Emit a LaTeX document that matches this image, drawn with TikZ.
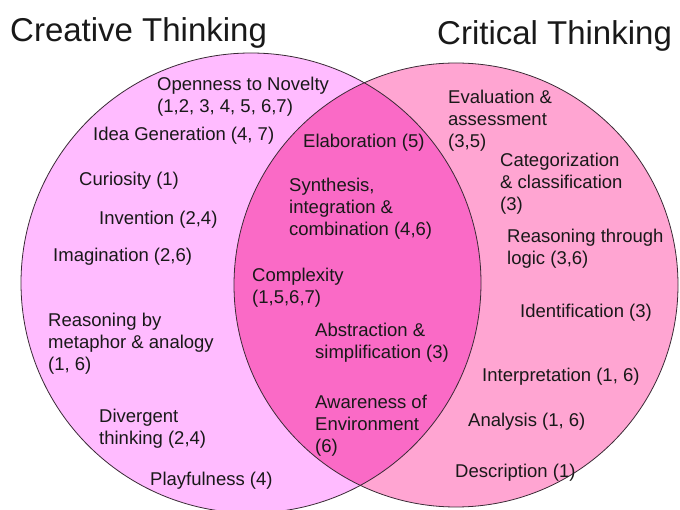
\documentclass[tikz,border=0pt]{standalone}
\usepackage{fontspec}
\setmainfont{Liberation Sans}
\definecolor{creafill}{HTML}{FFBBFF}
\definecolor{critfill}{HTML}{FFA5D2}
\definecolor{lensfill}{HTML}{FA6AC6}
\definecolor{rimline}{HTML}{3A2A35}
\tikzset{
  lbl/.style={anchor=base west, inner sep=0pt, align=left,
    font=\fontsize{18.5}{22}\selectfont, text=black!90},
  ttl/.style={anchor=base west, inner sep=0pt,
    font=\fontsize{33}{38}\selectfont, text=black!90},
  rim/.style={draw=rimline, line width=0.8pt}
}
\begin{document}
\begin{tikzpicture}[x=1pt,y=-1pt]
\useasboundingbox (0,0) rectangle (680,510);
\fill[white] (0,0) rectangle (680,510);
% circles
\fill[creafill] (251,283) circle[radius=230];
\fill[critfill] (456,285) circle[radius=222];
\begin{scope}
  \clip (251,283) circle[radius=230];
  \fill[lensfill] (456,285) circle[radius=222];
\end{scope}
\draw[rim] (251,283) circle[radius=230];
\draw[rim] (456,285) circle[radius=222];
% titles
\node[ttl] (tcrea) at (10,42) {Creative Thinking};
\node[ttl] (tcrit) at (437,45) {Critical Thinking};
% creative only (multi-line nodes: position = baseline of last line)
\node[lbl] (open) at (157,113) {Openness to Novelty\\(1,2, 3, 4, 5, 6,7)};
\node[lbl] (idea) at (93,141) {Idea Generation (4, 7)};
\node[lbl] (curi) at (79,186) {Curiosity (1)};
\node[lbl] (inve) at (99,225) {Invention (2,4)};
\node[lbl] (imag) at (53,262) {Imagination (2,6)};
\node[lbl] (meta) at (48,371) {Reasoning by\\metaphor \& analogy\\(1, 6)};
\node[lbl] (dive) at (99,444) {Divergent\\thinking (2,4)};
\node[lbl] (play) at (150,485) {Playfulness (4)};
% both
\node[lbl] (elab) at (303,148) {Elaboration (5)};
\node[lbl] (synt) at (289,236) {Synthesis,\\integration \&\\combination (4,6)};
\node[lbl] (comp) at (252,304) {Complexity\\(1,5,6,7)};
\node[lbl] (abst) at (315,359) {Abstraction \&\\simplification (3)};
\node[lbl] (awar) at (315,452) {Awareness of\\Environment\\(6)};
% critical only
\node[lbl] (eval) at (448,148) {Evaluation \&\\assessment\\(3,5)};
\node[lbl] (cate) at (500,211) {Categorization\\\& classification\\(3)};
\node[lbl] (reas) at (507,265) {Reasoning through\\logic (3,6)};
\node[lbl] (iden) at (520,318) {Identification (3)};
\node[lbl] (inte) at (482,382) {Interpretation (1, 6)};
\node[lbl] (anal) at (468,427) {Analysis (1, 6)};
\node[lbl] (desc) at (455,477) {Description (1)};
\end{tikzpicture}
\end{document}
